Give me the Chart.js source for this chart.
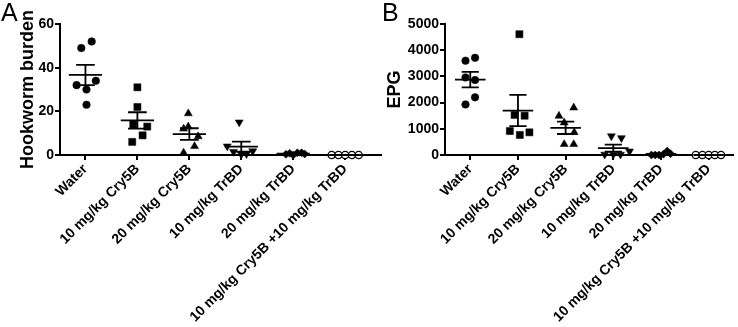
<!DOCTYPE html>
<html><head><meta charset="utf-8">
<script src="https://cdn.jsdelivr.net/npm/chart.js@4/dist/chart.umd.min.js"></script>
<style>
html,body{margin:0;padding:0;background:#fff;}
#wrap{position:relative;width:738px;height:327px;overflow:hidden;background:#fff;}
#ca{position:absolute;left:0;top:0;width:386px;height:327px;}
#cb{position:absolute;left:384px;top:0;width:354px;height:327px;}
.lab{position:absolute;font-family:"Liberation Sans",Arial,sans-serif;font-size:25px;line-height:1;color:#000;}
</style></head><body>
<div id="wrap">
<canvas id="ca" width="386" height="327"></canvas>
<canvas id="cb" width="354" height="327"></canvas>
<div class="lab" style="left:1px;top:0px">A</div>
<div class="lab" style="left:382px;top:0px">B</div>
</div>
<script>
const categories = ["Water","10 mg/kg Cry5B","20 mg/kg Cry5B","10 mg/kg TrBD","20 mg/kg TrBD","10 mg/kg Cry5B +10 mg/kg TrBD"];

// Panel A: Hookworm burden
const burdenWater   = [49, 52, 32, 30, 34, 23];
const burdenCry5B10 = [31, 22, 14, 13, 9, 6];
const burdenCry5B20 = [19, 12, 13, 8.5, 4, 1];
const burdenTrBD10  = [15, 4, 1.5, 0.3, 0.5, 1.8];
const burdenTrBD20  = [0.3, 0.8, 0, 1, 1, 0.5];
const burdenCombo   = [0, 0, 0, 0, 0];
const burdenTicks   = [0, 20, 40, 60];

// Panel B: EPG
const epgWater   = [3600, 3710, 2960, 2860, 2200, 1930];
const epgCry5B10 = [4610, 1530, 1500, 915, 765, 865];
const epgCry5B20 = [1805, 1490, 1235, 865, 410, 410];
const epgTrBD10  = [720, 650, 20, 20, 20, 140];
const epgTrBD20  = [0, 0, 0, 30, 150, 50];
const epgCombo   = [0, 0, 0, 0, 0];
const epgTicks   = [0, 1000, 2000, 3000, 4000, 5000];

// horizontal jitter of individual animals within each group (category units)
const burdenJitter = [
  [-0.08, 0.12, -0.17, 0.02, 0.2, 0.02],
  [0, 0, -0.08, 0.19, 0.1, -0.1],
  [-0.02, -0.11, -0.02, 0.17, 0.1, -0.11],
  [-0.04, -0.27, -0.15, 0, 0.1, 0.22],
  [-0.14, -0.07, 0, 0.08, 0.16, 0.22],
  [-0.26, -0.13, 0, 0.13, 0.26]
];
const epgJitter = [
  [-0.1, 0.1, -0.1, 0.1, 0.1, -0.1],
  [0.03, -0.07, 0.14, -0.17, 0.04, 0.24],
  [0.17, -0.14, -0.03, 0.18, -0.03, 0.17],
  [-0.04, 0.17, -0.18, 0, 0.15, 0.34],
  [-0.2, -0.12, -0.04, 0.05, 0.13, 0.2],
  [-0.27, -0.13, 0, 0.13, 0.26]
];

const FAM = '"Liberation Sans", Arial, Helvetica, sans-serif';
const markers = [
  {pointStyle:'circle', radius:3.8, rotation:0, fill:'#000'},
  {pointStyle:'rect', radius:5, rotation:0, fill:'#000'},
  {pointStyle:'triangle', radius:4.6, rotation:0, fill:'#000'},
  {pointStyle:'triangle', radius:4.6, rotation:180, fill:'#000'},
  {pointStyle:'rectRot', radius:4, rotation:0, fill:'#000'},
  {pointStyle:'circle', radius:3.6, rotation:0, fill:'#fff'}
];

function meanSem(a){
  const n=a.length, m=a.reduce((s,v)=>s+v,0)/n;
  const sd=Math.sqrt(a.reduce((s,v)=>s+(v-m)*(v-m),0)/(n-1));
  return [m, sd/Math.sqrt(n)];
}

function makeChart(id, groups, jitter, yTicks, yMax, xMin, xMax, title, titlePad, yWidth){
  const datasets = groups.map((vals,gi)=>({
    type:'scatter',
    data: vals.map((v,k)=>({x: gi + jitter[gi][k], y: v})),
    pointStyle: markers[gi].pointStyle,
    pointRadius: markers[gi].radius,
    pointRotation: markers[gi].rotation,
    pointBackgroundColor: markers[gi].fill,
    pointBorderColor:'#000',
    pointBorderWidth: gi===5 ? 1.3 : 0.5,
    clip:false,
    order:1
  }));
  const seg=[];
  groups.forEach((vals,gi)=>{
    const [m,s]=meanSem(vals);
    seg.push({x:gi-0.32,y:m},{x:gi+0.32,y:m},{x:gi,y:null});
    seg.push({x:gi-0.18,y:m+s},{x:gi+0.18,y:m+s},{x:gi,y:null});
    seg.push({x:gi-0.18,y:m-s},{x:gi+0.18,y:m-s},{x:gi,y:null});
    seg.push({x:gi,y:m-s},{x:gi,y:m+s},{x:gi,y:null});
  });
  datasets.push({type:'line', data:seg, showLine:true, spanGaps:false, borderColor:'#000', borderWidth:1.8, pointRadius:0, fill:false, clip:false, order:0});

  return new Chart(document.getElementById(id), {
    type:'scatter',
    data:{datasets},
    options:{
      responsive:false, animation:false, devicePixelRatio:1,
      layout:{padding:{top:24,right:0,bottom:0,left:0}},
      plugins:{legend:{display:false}, tooltip:{enabled:false}},
      scales:{
        x:{type:'linear', min:xMin, max:xMax,
          afterBuildTicks:s=>{ s.ticks = categories.map((c,i)=>({value:i})); },
          afterFit:s=>{ s.height = 327-155; },
          border:{display:true,color:'#000',width:2},
          grid:{display:true,drawOnChartArea:false,drawTicks:true,tickLength:5,color:'#000',lineWidth:2},
          ticks:{color:'#000',autoSkip:false,maxRotation:45,minRotation:45,padding:1,
            font:{family:FAM,size:14,weight:'bold'},
            callback:(v)=>categories[v]}
        },
        y:{type:'linear', min:0, max:yMax,
          afterBuildTicks:s=>{ s.ticks = yTicks.map(v=>({value:v})); },
          afterFit:s=>{ s.width = yWidth; },
          border:{display:true,color:'#000',width:2},
          grid:{display:true,drawOnChartArea:false,drawTicks:true,tickLength:5,color:'#000',lineWidth:2},
          ticks:{color:'#000',padding:1,font:{family:FAM,size:14,weight:'bold'},callback:(v)=>String(v)},
          title:{display:true,text:title,color:'#000',font:{family:FAM,size:18,weight:'bold'},padding:{top:titlePad,bottom:0}}
        }
      }
    }
  });
}

makeChart('ca', [burdenWater,burdenCry5B10,burdenCry5B20,burdenTrBD10,burdenTrBD20,burdenCombo], burdenJitter, burdenTicks, 60, -0.49, 5.68, 'Hookworm burden', 17, 60);
makeChart('cb', [epgWater,epgCry5B10,epgCry5B20,epgTrBD10,epgTrBD20,epgCombo], epgJitter, epgTicks, 5000, -0.53, 5.5, 'EPG', 0, 61);
</script>
</body></html>
